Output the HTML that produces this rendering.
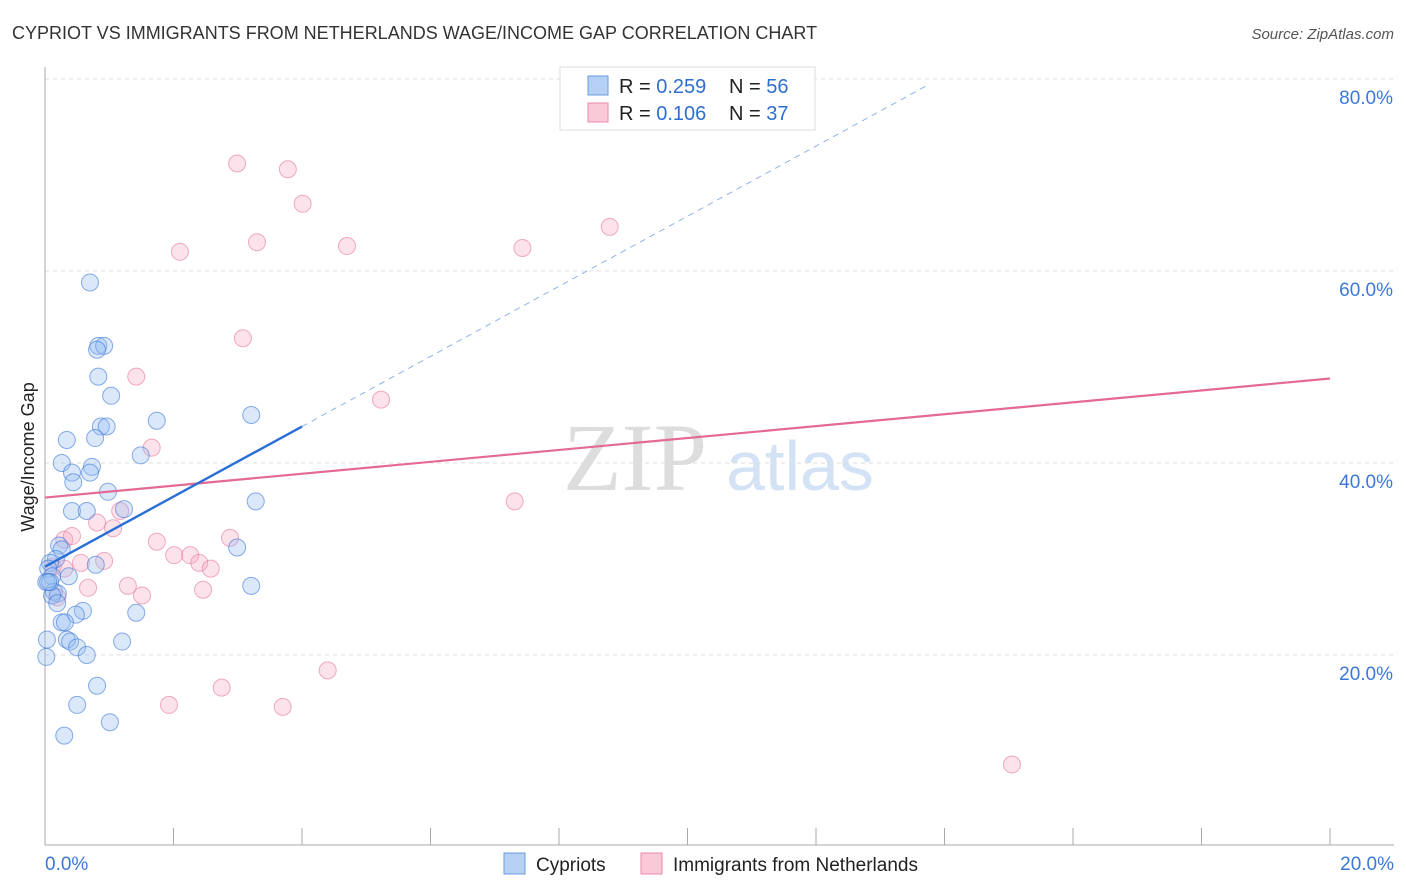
<!DOCTYPE html>
<html><head><meta charset="utf-8"><style>
body{margin:0;background:#fff;font-family:"Liberation Sans",sans-serif}
svg{display:block}
</style></head><body>
<svg id="c" width="1406" height="892">
<text x="12" y="39" font-size="18" fill="#333">CYPRIOT VS IMMIGRANTS FROM NETHERLANDS WAGE/INCOME GAP CORRELATION CHART</text>
<text x="1394" y="39" font-size="15" fill="#555" text-anchor="end" font-style="italic">Source: ZipAtlas.com</text>
<text x="635" y="490" font-size="96" fill="#ddd" font-family="Liberation Serif" text-anchor="middle">ZIP</text>
<text x="800" y="490" font-size="70" fill="#d3e2f5" text-anchor="middle">atlas</text>
<text transform="translate(34,457) rotate(-90)" font-size="18" fill="#222" text-anchor="middle">Wage/Income Gap</text>
<g id="grid"></g><g id="pts"></g><g id="lines"></g>
<g>
<rect x="560" y="67" width="255" height="63" fill="#fff" stroke="#ddd"/>
<rect x="588" y="76" width="20" height="19" fill="#b5d0f3" stroke="#6a9be0"/>
<rect x="588" y="103" width="20" height="19" fill="#f9c9d8" stroke="#e98aa8"/>
<text x="619" y="93" font-size="20" fill="#222">R = <tspan fill="#2f6fce">0.259</tspan></text>
<text x="729" y="93" font-size="20" fill="#222">N = <tspan fill="#2f6fce">56</tspan></text>
<text x="619" y="120" font-size="20" fill="#222">R = <tspan fill="#2f6fce">0.106</tspan></text>
<text x="729" y="120" font-size="20" fill="#222">N = <tspan fill="#2f6fce">37</tspan></text>
</g>
<g>
<rect x="504" y="853" width="21" height="21" fill="#b5d0f3" stroke="#6a9be0"/>
<text x="536" y="871" font-size="19" fill="#222">Cypriots</text>
<rect x="641" y="853" width="21" height="21" fill="#f9c9d8" stroke="#e98aa8"/>
<text x="673" y="871" font-size="19" fill="#222">Immigrants from Netherlands</text>
</g>
</svg>
<script>
const yTicks=[20,40,60,80];
const xTickLabels=["0.0%","20.0%"];
const blueX=[0.70,0.83,0.92,0.81,0.83,1.03,1.74,3.21,0.87,0.96,0.34,0.78,1.49,0.26,0.73,0.42,0.70,0.44,0.98,3.28,0.42,0.65,1.23,2.99,0.22,0.26,0.17,0.08,0.79,0.05,0.11,0.37,0.02,0.14,0.20,0.11,0.19,0.59,0.48,1.42,3.21,0.26,0.31,0.03,0.34,0.39,1.20,0.50,0.65,0.02,0.81,0.50,1.01,0.30,0.08,0.05];
const blueY=[58.8,52.2,52.2,51.8,49,47,44.4,45,43.8,43.8,42.4,42.6,40.8,40,39.6,39,39,38,37,36,35,35,35.2,31.2,31.4,31,30,29.6,29.4,29,28.2,28.2,27.6,26.6,26.4,26.2,25.4,24.6,24.2,24.4,27.2,23.4,23.4,21.6,21.6,21.4,21.4,20.8,20,19.8,16.8,14.8,13,11.6,27.6,27.6];
const pinkX=[2.99,3.78,4.01,2.10,3.30,4.70,7.43,8.79,3.08,1.42,5.23,1.66,7.31,1.17,0.81,1.06,0.30,0.42,1.74,2.88,2.01,2.26,2.40,2.58,0.56,0.92,0.12,0.30,1.29,1.51,0.67,2.46,0.19,4.40,2.75,1.93,3.70,15.05];
const pinkY=[71.2,70.6,67,62,63,62.6,62.4,64.6,53,49,46.6,41.6,36,35,33.8,33.2,32,32.4,31.8,32.2,30.4,30.4,29.6,29,29.6,29.8,29.2,29,27.2,26.2,27,26.8,26,18.4,16.6,14.8,14.6,8.6];
const blueLine=[[0,29.2],[4,43.8]], blueDash=[[4,43.8],[13.75,79.4]], pinkLine=[[0,36.4],[20,48.8]];
const X=v=>45+v*64.25, Y=v=>847-v*9.6;
const NS="http://www.w3.org/2000/svg", svg=document.getElementById('c');
function mk(t,a,p){const e=document.createElementNS(NS,t);for(const k in a)e.setAttribute(k,a[k]);(p||svg).appendChild(e);return e;}
const grid=document.getElementById('grid');
yTicks.forEach(t=>{
 const l=mk('line',{x1:45,x2:1394,y1:Y(t),y2:Y(t),stroke:'#ddd','stroke-dasharray':'4,4'},grid);
 
 
 const tx=mk('text',{x:1393,y:Y(t)+25,'font-size':19,fill:'#3b78d8','text-anchor':'end'},grid);tx.textContent=t.toFixed(1)+"%";
 
 
});
const ax=mk('line',{x1:45,x2:1394,y1:845,y2:845,stroke:'#aaa'},grid);


const ay=mk('line',{x1:45,x2:45,y1:67,y2:845,stroke:'#aaa'},grid);


for(let i=1;i<=10;i++){const t=mk('line',{x1:X(i*2),x2:X(i*2),y1:828,y2:845,stroke:'#aaa'},grid);
 
 }
[[0,'start',45],[1,'end',1394]].forEach(([i,a,x])=>{const t=mk('text',{x:x,y:870,'font-size':19,fill:'#3b78d8','text-anchor':a},grid);t.textContent=xTickLabels[i];
 
 });
const pts=document.getElementById('pts');
pinkX.forEach((x,i)=>{const c=mk('circle',{cx:X(x),cy:Y(pinkY[i]),r:8.5,fill:'rgba(244,160,190,0.3)',stroke:'rgba(230,120,155,0.6)'},pts);
 
 });
blueX.forEach((x,i)=>{const c=mk('circle',{cx:X(x),cy:Y(blueY[i]),r:8.5,fill:'rgba(150,190,240,0.35)',stroke:'rgba(60,120,215,0.6)'},pts);
 
 });
const L=document.getElementById('lines');
function ln(d,c,w,dash,n){const e=mk('line',{x1:X(d[0][0]),y1:Y(d[0][1]),x2:X(d[1][0]),y2:Y(d[1][1]),stroke:c,'stroke-width':w},L);if(dash)e.setAttribute('stroke-dasharray',dash);
 
 }
ln(pinkLine,'#e56a93',2.2,null,'netherlands-trend-line');
ln(blueLine,'#2a6fd6',2.4,null,'cypriot-trend-line');
ln(blueDash,'#8fb3e6',1,'6,5','cypriot-trend-extension');
</script>
</body></html>
